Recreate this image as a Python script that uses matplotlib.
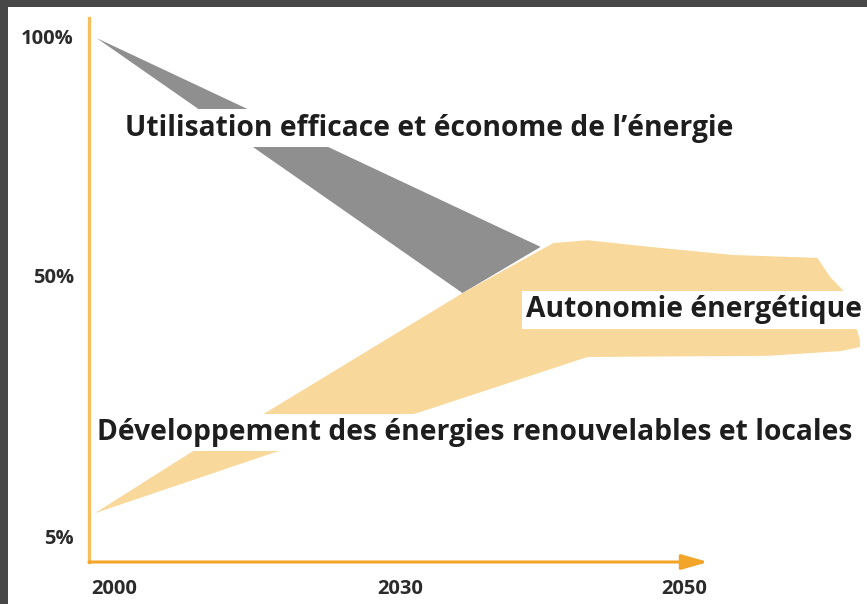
import numpy as np
import matplotlib
matplotlib.use("Agg")
import matplotlib.pyplot as plt
from matplotlib.patches import Rectangle

# tick labels of the schematic
YEAR_TICKS = [2000, 2030, 2050]
PCT_TICKS = [5, 50, 100]
PCT_LABELS = ["5%", "50%", "100%"]

# grey wedge: efficient / sober energy use
GREY_YEARS = [1998.2, 2039.9, 2034.4]
GREY_PCT = [99.6, 55.9, 46.9]

# orange band: renewables -> energy autonomy (upper edge then lower edge back)
BAND_YEARS = [1998.0, 2008.0, 2016.0, 2034.4, 2040.8, 2043.2, 2047.6, 2053.5,
              2059.4, 2060.3, 2061.2, 2062.2, 2062.4, 2062.4,
              2061.0, 2055.9, 2043.2, 2031.4, 2016.7]
BAND_PCT = [9.0, 19.4, 26.4, 46.9, 56.7, 57.3, 55.9, 54.2,
            53.6, 49.7, 47.4, 40.5, 38.8, 37.6,
            36.9, 36.1, 35.9, 26.4, 19.4]

LABEL_USE = "Utilisation efficace et économe de l’énergie"
LABEL_AUTO = "Autonomie énergétique"
LABEL_DEV = "Développement des énergies renouvelables et locales"

# the drawing is schematic: uneven spacing between the tick years / percents
X_KNOTS = [1990, 2000, 2030, 2050, 2070]
X_POS = [18.67, 114.0, 400.0, 683.5, 967.0]
Y_KNOTS = [-10, 5, 50, 100, 120]
Y_POS = [-623.7, -536.5, -275.0, -36.0, 59.6]

GREY = "#8f8f8f"
BAND = "#f9d99b"
AXIS = "#f5bf5c"
ARROW = "#f3a52a"
FONT = ["Open Sans", "DejaVu Sans"]


def fwd(knots, pos):
    return lambda v: np.interp(v, knots, pos)


def inv(knots, pos):
    return lambda p: np.interp(p, pos, knots)


fig = plt.figure(figsize=(8.67, 6.04), dpi=100, facecolor="#474747")
fig.patches.append(Rectangle((8 / 867, 0), 1, 1 - 7 / 604, transform=fig.transFigure,
                             facecolor="white", edgecolor="none", zorder=-10))

ax = fig.add_axes([89 / 867, 42 / 604, 778 / 867, 544 / 604])
ax.set_facecolor("none")
ax.set_xscale("function", functions=(fwd(X_KNOTS, X_POS), inv(X_KNOTS, X_POS)))
ax.set_yscale("function", functions=(fwd(Y_KNOTS, Y_POS), inv(Y_KNOTS, Y_POS)))
ax.set_xlim(1997.4, 2062.9)
ax.set_ylim(0.61, 103.8)

ax.fill(GREY_YEARS, GREY_PCT, color=GREY, lw=0, zorder=1)
ax.fill(BAND_YEARS, BAND_PCT, color=BAND, lw=0, zorder=2)

box = dict(boxstyle="square,pad=0.15", facecolor="white", edgecolor="none")
text_kw = dict(fontsize=20.3, fontweight="bold", family=FONT, color="#1e1e1e",
               va="baseline", ha="left", zorder=5, bbox=box)
ax.text(2001.2, 79.2, LABEL_USE, **text_kw)
ax.text(2038.9, 42.7, LABEL_AUTO, **text_kw)
ax.text(1998.2, 21.6, LABEL_DEV, **text_kw)

for side in ["top", "right", "bottom"]:
    ax.spines[side].set_visible(False)
ax.spines["left"].set_color(AXIS)
ax.spines["left"].set_linewidth(2.4)

ax.annotate("", xy=(2051.7, 0), xytext=(1997.4, 0), xycoords=ax.get_xaxis_transform(),
            arrowprops=dict(arrowstyle="-|>,head_length=0.8,head_width=0.23",
                            color=ARROW, lw=2.2, mutation_scale=20, shrinkA=0, shrinkB=0),
            zorder=6, annotation_clip=False)

ax.set_xticks(YEAR_TICKS)
ax.set_xticklabels([str(y) for y in YEAR_TICKS])
ax.set_yticks(PCT_TICKS)
ax.set_yticklabels(PCT_LABELS)
ax.tick_params(length=0, labelsize=14.5, labelcolor="#2b2b2b")
ax.tick_params(axis="x", pad=12)
ax.tick_params(axis="y", pad=11)
for lab in ax.get_xticklabels() + ax.get_yticklabels():
    lab.set_fontweight("bold")
    lab.set_family(FONT)

fig.savefig("out.png", dpi=100, facecolor=fig.get_facecolor())
